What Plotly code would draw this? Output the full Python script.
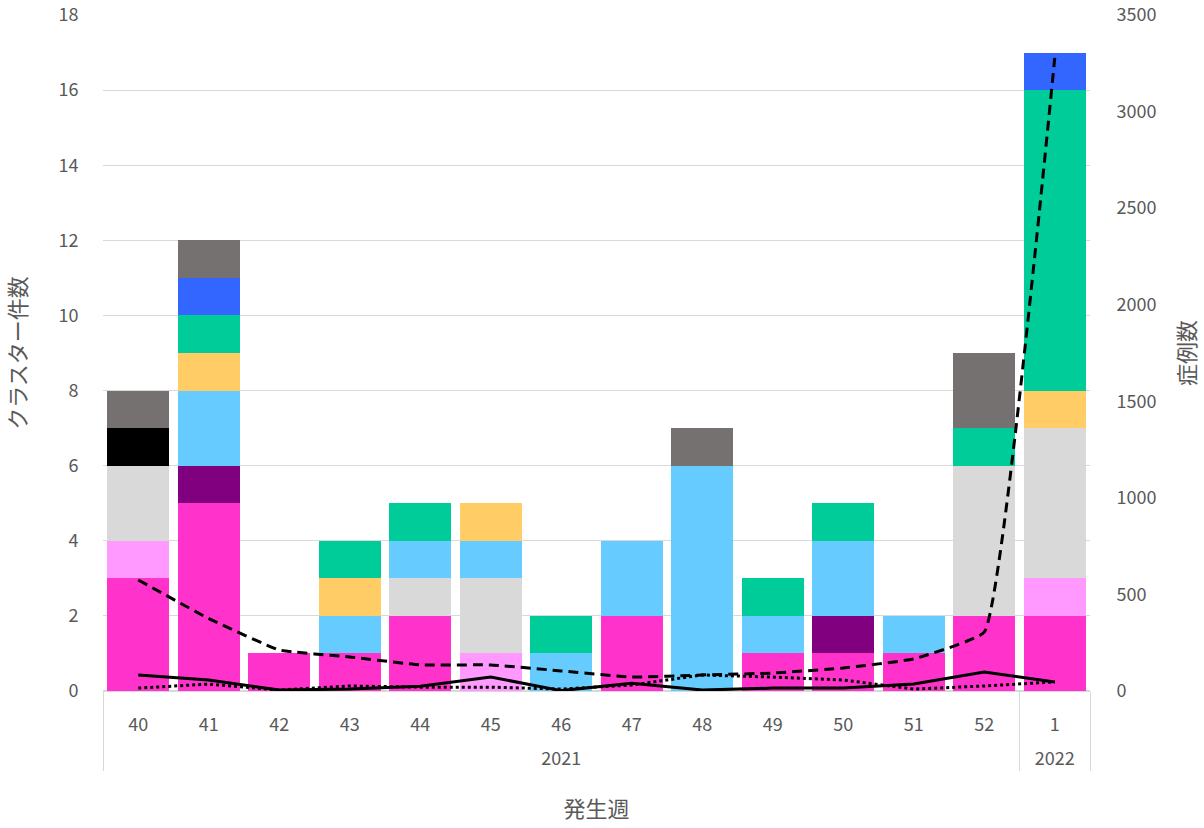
import plotly.graph_objects as go

weeks = ["40", "41", "42", "43", "44", "45", "46", "47", "48", "49", "50", "51", "52", "1"]
years = ["2021"] * 13 + ["2022"]

magenta = [3, 5, 1, 1, 2, 0, 0, 2, 0, 1, 1, 1, 2, 2]
pink = [1, 0, 0, 0, 0, 1, 0, 0, 0, 0, 0, 0, 0, 1]
purple = [0, 1, 0, 0, 0, 0, 0, 0, 0, 0, 1, 0, 0, 0]
lightgray = [2, 0, 0, 0, 1, 2, 0, 0, 0, 0, 0, 0, 4, 4]
lightblue = [0, 2, 0, 1, 1, 1, 1, 2, 6, 1, 2, 1, 0, 0]
gold = [0, 1, 0, 1, 0, 1, 0, 0, 0, 0, 0, 0, 0, 1]
green = [0, 1, 0, 1, 1, 0, 1, 0, 0, 1, 1, 0, 1, 8]
blue = [0, 1, 0, 0, 0, 0, 0, 0, 0, 0, 0, 0, 0, 1]
black = [1, 0, 0, 0, 0, 0, 0, 0, 0, 0, 0, 0, 0, 0]
darkgray = [1, 1, 0, 0, 0, 0, 0, 0, 1, 0, 0, 0, 2, 0]

cases_dashed = [575, 375, 212, 176, 135, 135, 104, 72, 83, 93, 119, 166, 305, 3278]
cases_solid = [83, 57, 5, 10, 25, 72, 2, 40, 5, 15, 15, 36, 98, 47]
cases_dotted = [15, 36, 5, 26, 20, 20, 10, 31, 83, 72, 57, 10, 26, 47]

stack = [
    (magenta, "#FF33CC"), (pink, "#FF99FF"), (purple, "#800080"),
    (lightgray, "#D9D9D9"), (lightblue, "#66CCFF"), (gold, "#FFCC66"),
    (green, "#00CC99"), (blue, "#3366FF"), (black, "#000000"),
    (darkgray, "#767171"),
]

# a leading line break pushes the year row further below the week row
x = [["<br>" + y for y in years], weeks]
fig = go.Figure()
for vals, col in stack:
    fig.add_trace(go.Bar(x=x, y=vals, marker=dict(color=col, line=dict(width=0)),
                         showlegend=False))

fig.add_trace(go.Scatter(x=x, y=cases_dashed, yaxis="y2", mode="lines",
                         line=dict(color="black", width=3, dash="10px,6px", shape="spline", smoothing=0.3),
                         showlegend=False))
fig.add_trace(go.Scatter(x=x, y=cases_solid, yaxis="y2", mode="lines",
                         line=dict(color="black", width=3), showlegend=False))
fig.add_trace(go.Scatter(x=x, y=cases_dotted, yaxis="y2", mode="lines",
                         line=dict(color="black", width=3, dash="dot"), showlegend=False))

font = "Noto Sans CJK JP"
tc = "#595959"
fig.update_layout(
    width=1204, height=828,
    margin=dict(l=103, r=114, t=15, b=137, autoexpand=False),
    barmode="stack", bargap=0.12,
    plot_bgcolor="white", paper_bgcolor="white",
    font=dict(family=font, size=18, color=tc),
    xaxis=dict(type="multicategory", showline=True, linecolor="#D9D9D9", linewidth=1,
               showdividers=True, dividercolor="#D9D9D9", dividerwidth=1,
               automargin=False, ticklabelstandoff=17,
               tickfont=dict(size=18, color=tc),
               title=dict(text="発生週", font=dict(size=22, color=tc), standoff=32)),
    yaxis=dict(range=[0, 18], dtick=2, showgrid=True, gridcolor="#D9D9D9", gridwidth=1,
               zeroline=True, zerolinecolor="#D9D9D9", automargin=False,
               ticks="outside", ticklen=20, tickcolor="rgba(0,0,0,0)",
               tickfont=dict(size=18, color=tc),
               title=dict(text="クラスター件数", font=dict(size=22, color=tc), standoff=26)),
    yaxis2=dict(range=[0, 3500], dtick=500, overlaying="y", side="right", showgrid=False,
                zeroline=False, automargin=False,
                ticks="outside", ticklen=22, tickcolor="rgba(0,0,0,0)",
                tickfont=dict(size=18, color=tc),
                title=dict(text="症例数", font=dict(size=22, color=tc), standoff=24)),
)

# remove the browser's default 8px body margin so the figure sits at (0, 0)
fig.write_html("out.html", config={"displayModeBar": False},
               post_script="document.body.style.margin='0';")
